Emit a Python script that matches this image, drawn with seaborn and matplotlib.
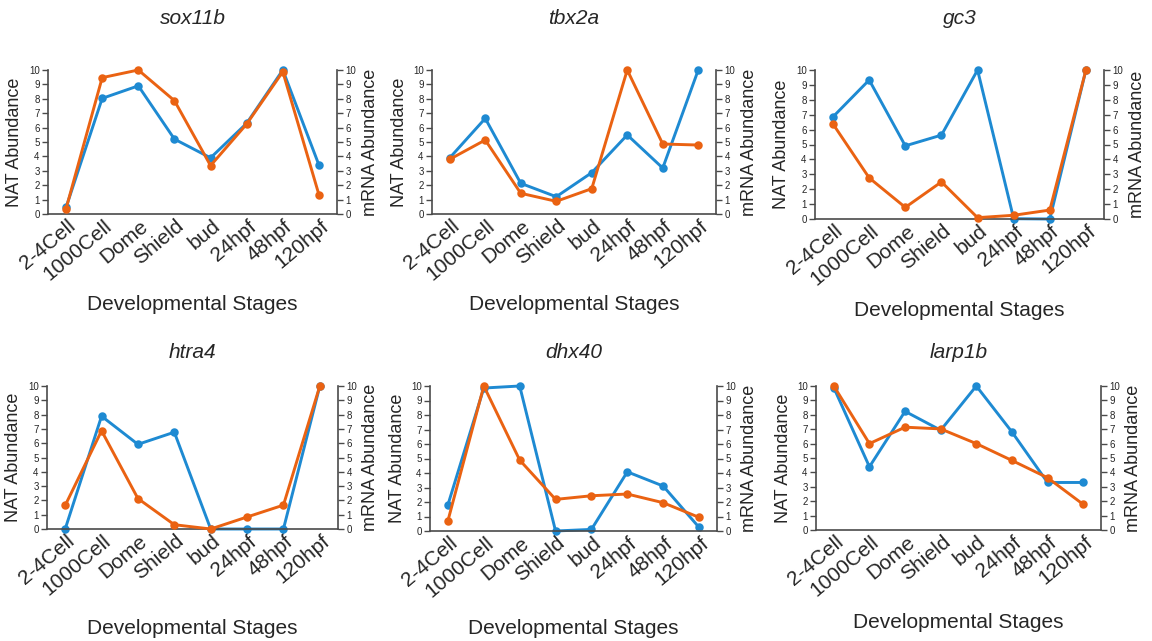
import matplotlib
matplotlib.use("Agg")
import matplotlib.pyplot as plt
import matplotlib.transforms as mtransforms
import seaborn as sns

stages = ["2-4Cell", "1000Cell", "Dome", "Shield", "bud", "24hpf", "48hpf", "120hpf"]
genes = ["sox11b", "tbx2a", "gc3", "htra4", "dhx40", "larp1b"]

nat_sox11b = [0.46, 8.03, 8.9, 5.2, 3.9, 6.3, 10.0, 3.4]
mrna_sox11b = [0.37, 9.47, 10.0, 7.87, 3.36, 6.25, 9.88, 1.34]
nat_tbx2a = [3.9, 6.64, 2.13, 1.2, 2.87, 5.49, 3.19, 10.0]
mrna_tbx2a = [3.8, 5.14, 1.44, 0.88, 1.76, 10.0, 4.86, 4.79]
nat_gc3 = [6.86, 9.33, 4.91, 5.63, 10.0, 0.02, 0.0, 10.0]
mrna_gc3 = [6.37, 2.76, 0.78, 2.49, 0.09, 0.25, 0.6, 10.0]
nat_htra4 = [0.0, 7.89, 5.92, 6.77, 0.0, 0.0, 0.0, 10.0]
mrna_htra4 = [1.65, 6.87, 2.13, 0.3, 0.0, 0.84, 1.67, 10.0]
nat_dhx40 = [1.81, 9.86, 10.0, 0.0, 0.11, 4.08, 3.1, 0.25]
mrna_dhx40 = [0.71, 10.0, 4.89, 2.18, 2.43, 2.55, 1.95, 0.94]
nat_larp1b = [9.88, 4.39, 8.24, 6.93, 10.0, 6.81, 3.3, 3.3]
mrna_larp1b = [10.0, 6.0, 7.14, 7.02, 6.0, 4.83, 3.63, 1.78]

nat = [nat_sox11b, nat_tbx2a, nat_gc3, nat_htra4, nat_dhx40, nat_larp1b]
mrna = [mrna_sox11b, mrna_tbx2a, mrna_gc3, mrna_htra4, mrna_dhx40, mrna_larp1b]
yticks = list(range(0, 11))

BLUE = "#1E8AD2"
ORANGE = "#EA6212"
SPINE = "#4a4a4a"

sns.set_theme(style="ticks")
plt.rcParams["font.family"] = ["Liberation Sans", "DejaVu Sans"]

W, H = 1152, 641
fig = plt.figure(figsize=(W / 100, H / 100), dpi=100)

# panel boxes in pixels: left, right, top, bottom ; title y ; xlabel y
boxes = [
    (48, 337, 70, 214, 18, 305),
    (432, 716, 70, 214, 18, 304),
    (815, 1104, 70, 219, 18, 311),
    (47, 338, 386, 529, 353, 628),
    (430, 717, 386, 531, 353, 628),
    (816, 1101, 386, 530, 353, 623),
]

for i, gene in enumerate(genes):
    l, r, t, b, ty, xy = boxes[i]
    w = r - l
    ax = fig.add_axes([l / W, 1 - b / H, w / W, (b - t) / H])
    ax2 = ax.twinx()
    sns.pointplot(x=stages, y=nat[i], ax=ax, color=BLUE, markers="o",
                  markersize=4.5, linewidth=2.1, errorbar=None)
    sns.pointplot(x=stages, y=mrna[i], ax=ax2, color=ORANGE, markers="o",
                  markersize=4.5, linewidth=2.1, errorbar=None)
    for a in (ax, ax2):
        a.set_ylim(0, 10)
        a.set_xlim(-0.5, len(stages) - 0.5)
        a.set_yticks(yticks)
        a.set_yticklabels([str(v) for v in yticks], fontsize=7)
        for art in a.lines + a.collections:
            art.set_clip_on(False)
        for s in a.spines.values():
            s.set_color(SPINE)
            s.set_linewidth(1.2)
        a.spines["top"].set_visible(False)
        a.tick_params(axis="y", length=4, width=1, color=SPINE, pad=2)
        a.grid(False)
    ax.spines["right"].set_visible(False)
    ax2.spines["left"].set_visible(False)
    ax2.spines["bottom"].set_visible(False)
    ax.tick_params(axis="x", length=0, pad=2)
    ax.set_xticks(range(len(stages)))
    ax.set_xticklabels(stages, fontsize=15, rotation=40, ha="right",
                       va="center", rotation_mode="anchor")
    offset = mtransforms.ScaledTranslation(7 / 100, -7 / 100, fig.dpi_scale_trans)
    for lab in ax.get_xticklabels():
        lab.set_transform(lab.get_transform() + offset)
    ax.set_ylabel("NAT Abundance", fontsize=13)
    ax2.set_ylabel("mRNA Abundance", fontsize=13, rotation=90)
    ax.yaxis.set_label_coords(-33 / w, 0.5)
    ax2.yaxis.set_label_coords(1 + 33 / w, 0.5)
    ax2.yaxis.label.set_va("center")
    ax.yaxis.label.set_va("center")
    ax.set_xlabel("Developmental Stages", fontsize=15)
    ax.xaxis.set_label_coords(0.5, (b - xy) / (b - t))
    ax.xaxis.label.set_va("center")
    fig.text((l + r) / 2 / W, 1 - ty / H, gene, fontsize=15, style="italic",
             ha="center", va="center")

fig.savefig("out.png", dpi=100)
